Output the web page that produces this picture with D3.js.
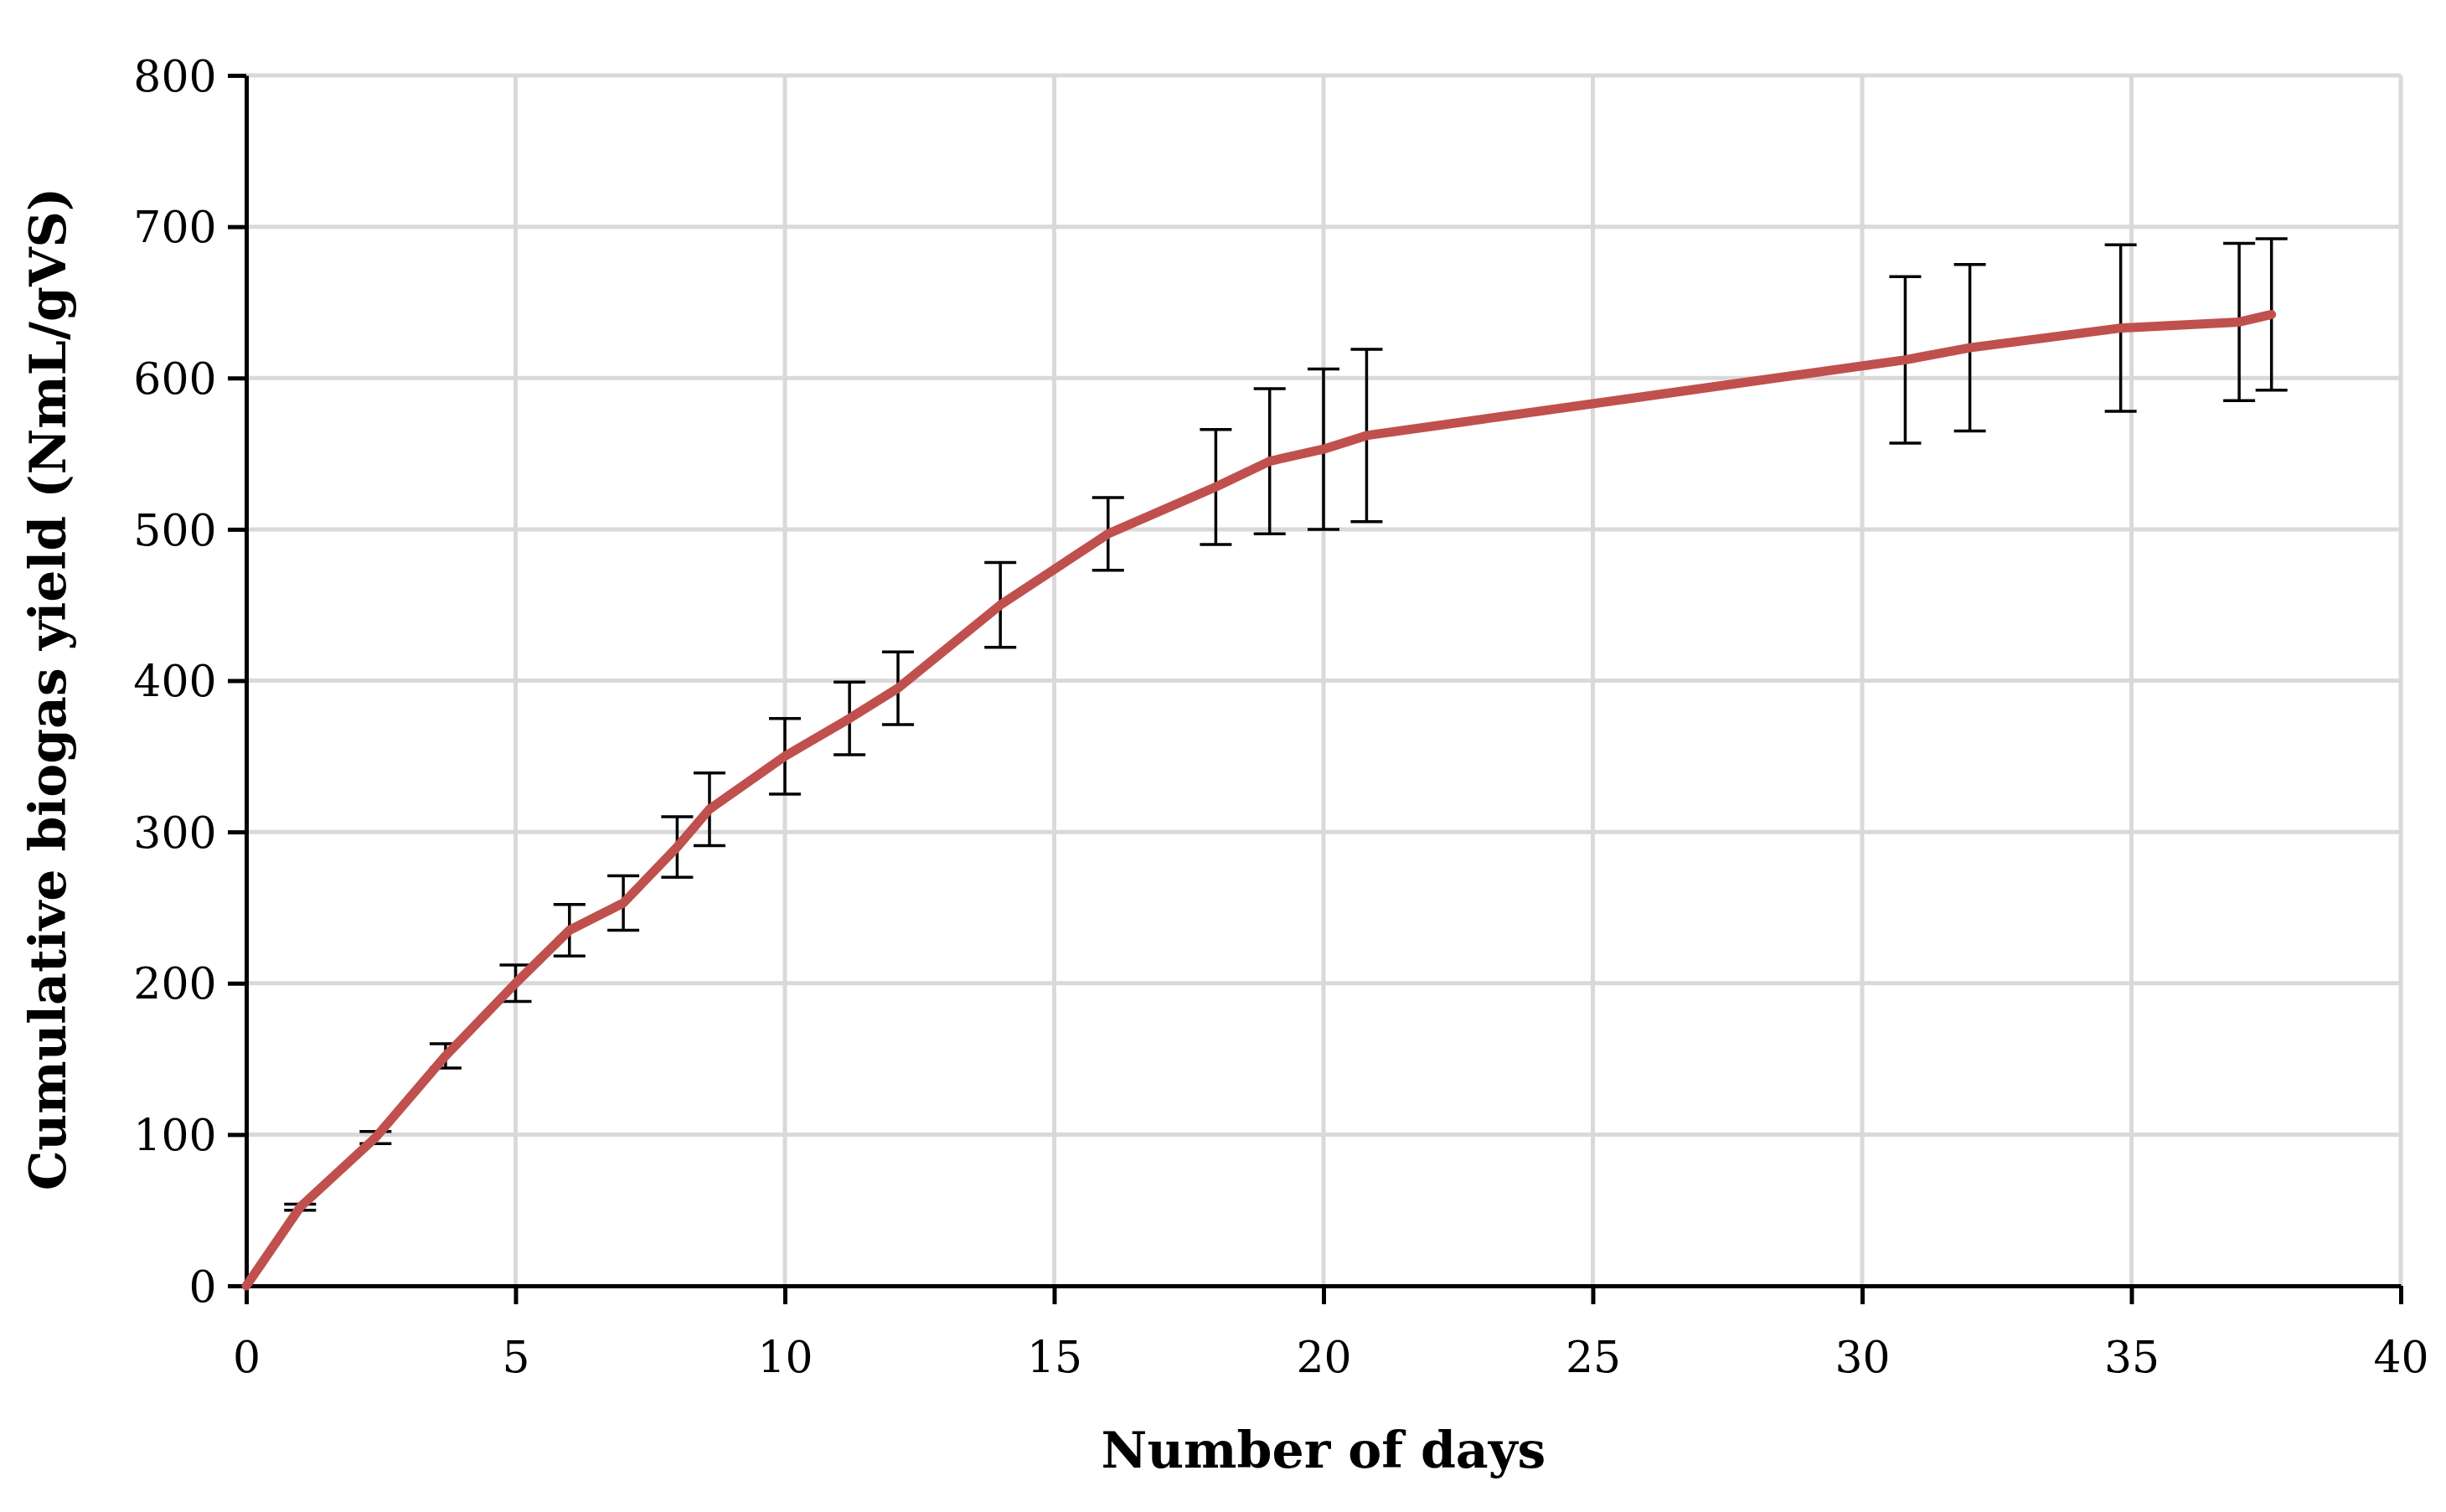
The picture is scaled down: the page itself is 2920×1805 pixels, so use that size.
<!DOCTYPE html>
<html><head><meta charset="utf-8">
<script src="https://cdn.jsdelivr.net/npm/d3@7"></script>
<style>body{margin:0;background:#fff}</style></head>
<body><svg id="c" width="2920" height="1805"></svg>
<script>
const days = [0,1,2.4,3.7,5,6,7,8,8.6,10,11.2,12.1,14,16,18,19,20,20.8,30.8,32,34.8,37,37.6];
const yieldVals = [0,52,98,152,200,235,253,290,315,350,375,395,450,497,528,545,553,562,612,620,633,637,642];
const errVals = [0,2,4,8,12,17,18,20,24,25,24,24,28,24,38,48,53,57,55,55,55,52,50];
const xTicks = [0,5,10,15,20,25,30,35,40];
const yTicks = [0,100,200,300,400,500,600,700,800];
const font = "'DejaVu Serif',serif";
const svg = d3.select('#c');
const L=294,R=2866,T=90,B=1535;
const x = d3.scaleLinear().domain([0,40]).range([L,R]);
const y = d3.scaleLinear().domain([0,800]).range([B,T]);
const g = svg.append('g');
xTicks.forEach(t=>{ if(t>0) g.append('line').attr('x1',x(t)).attr('x2',x(t)).attr('y1',T).attr('y2',B).attr('stroke','#d9d9d9').attr('stroke-width',5);});
yTicks.forEach(t=>{ if(t>0) g.append('line').attr('x1',L).attr('x2',R).attr('y1',y(t)).attr('y2',y(t)).attr('stroke','#d9d9d9').attr('stroke-width',5);});
const xa = svg.append('g').attr('transform',`translate(0,${B})`).call(d3.axisBottom(x).tickValues(xTicks).tickSize(22).tickSizeOuter(0));
const ya = svg.append('g').attr('transform',`translate(${L},0)`).call(d3.axisLeft(y).tickValues(yTicks).tickSize(22).tickSizeOuter(0));
[xa,ya].forEach(a=>{a.attr('font-size',null).attr('font-family',null);
 a.select('.domain').attr('stroke','#000').attr('stroke-width',5);
 a.selectAll('.tick line').attr('stroke','#000').attr('stroke-width',5);
 a.selectAll('text').style('font-family',font).style('font-size','52px').attr('fill','#000');});
xa.selectAll('text').attr('dy','1.5em');
ya.selectAll('text').attr('dx','-0.2em').attr('dy','0.35em');
const data = days.map((d,i)=>({d,v:yieldVals[i],e:errVals[i]}));
const eb = svg.append('g').attr('stroke','#000').attr('stroke-width',3.5);
data.filter(p=>p.e>0).forEach(p=>{
 eb.append('line').attr('x1',x(p.d)).attr('x2',x(p.d)).attr('y1',y(p.v-p.e)).attr('y2',y(p.v+p.e));
 [p.v-p.e,p.v+p.e].forEach(v=>eb.append('line').attr('x1',x(p.d)-19).attr('x2',x(p.d)+19).attr('y1',y(v)).attr('y2',y(v)));
});
svg.append('path').datum(data).attr('fill','none').attr('stroke','#c0504d').attr('stroke-width',11).attr('stroke-linecap','round').attr('stroke-linejoin','round')
 .attr('d',d3.line().x(p=>x(p.d)).y(p=>y(p.v)));
svg.append('text').attr('x',(L+R)/2).attr('y',1752).attr('text-anchor','middle').style('font-family',font).attr('font-weight','bold').style('font-size','60px').text('Number of days');
svg.append('text').attr('transform',`translate(78,${(T+B)/2+10}) rotate(-90)`).attr('text-anchor','middle').style('font-family',font).attr('font-weight','bold').style('font-size','60px').text('Cumulative biogas yield (NmL/gVS)');
</script></body></html>
